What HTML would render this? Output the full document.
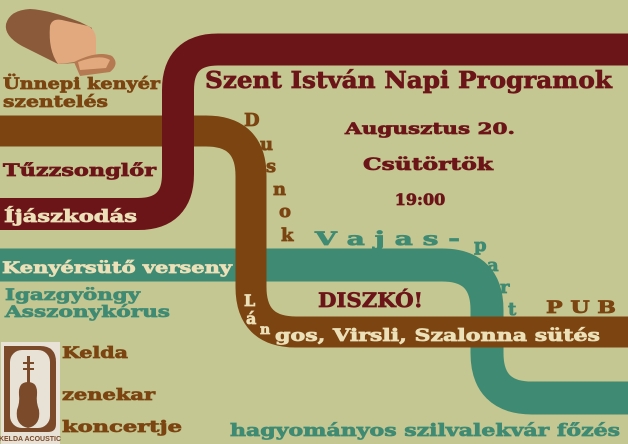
<!DOCTYPE html>
<html><head><meta charset="utf-8"><style>
html,body{margin:0;padding:0;background:#c6c895;}
svg{display:block}
text{font-family:"DejaVu Serif","Liberation Serif",serif;font-weight:bold;stroke-width:0.7;}
</style></head><body>
<svg width="628" height="444" viewBox="0 0 628 444" xmlns="http://www.w3.org/2000/svg">
<rect width="628" height="444" fill="#c4c792"/>
<!-- teal band -->
<path d="M-10,265 H442 Q487,265 487,310 V353 Q487,398 532,398 H640" fill="none" stroke="#3f8a72" stroke-width="33"/>
<!-- brown band -->
<path d="M-10,131 H206 Q251,131 251,176 V287 Q251,332 296,332 H640" fill="none" stroke="#7b4411" stroke-width="31"/>
<!-- red band -->
<path d="M640,49.5 H218 Q178,49.5 178,90 V174 Q178,214 138,214 H-10" fill="none" stroke="#6c1518" stroke-width="32"/>

<!-- bread -->
<g>
<path d="M6,24 Q10,10 30,9 Q50,10 80,22 L92,28 L92,62 L58,64 L22,46 Q4,36 6,24Z" fill="#8a5a3a"/>
<path d="M50,26 Q52,18 62,20 L88,26 Q96,30 96,40 L96,60 L58,64 Q48,50 50,26Z" fill="#e3a97e"/>
<path d="M74,62 Q98,50 112,56 Q120,64 110,72 L80,76 Z" fill="#b57a52"/>
<path d="M78,62 Q100,54 110,60 L106,68 L80,70Z" fill="#e3a97e"/>
</g>

<text x="3" y="89" font-size="16" fill="#7b4411" stroke="#7b4411" textLength="157" lengthAdjust="spacingAndGlyphs">Ünnepi kenyér</text>
<text x="3" y="107" font-size="16" fill="#7b4411" stroke="#7b4411" textLength="105" lengthAdjust="spacingAndGlyphs">szentelés</text>
<text x="205" y="88" font-size="23" fill="#6c1518" stroke="#6c1518" textLength="407" lengthAdjust="spacingAndGlyphs">Szent István Napi Programok</text>
<text x="3" y="176" font-size="17" fill="#6c1518" stroke="#6c1518" textLength="153" lengthAdjust="spacingAndGlyphs">Tűzzsonglőr</text>
<text x="4" y="222" font-size="17" fill="#ece0b8" stroke="#ece0b8" textLength="133" lengthAdjust="spacingAndGlyphs">Íjászkodás</text>
<text x="2" y="273" font-size="16" fill="#ece0b8" stroke="#ece0b8" textLength="230" lengthAdjust="spacingAndGlyphs">Kenyérsütő verseny</text>
<text x="5" y="300" font-size="16" fill="#3f8a72" stroke="#3f8a72" textLength="135" lengthAdjust="spacingAndGlyphs">Igazgyöngy</text>
<text x="5" y="317" font-size="16" fill="#3f8a72" stroke="#3f8a72" textLength="165" lengthAdjust="spacingAndGlyphs">Asszonykórus</text>

<text x="430" y="134" font-size="16" fill="#6c1518" stroke="#6c1518" text-anchor="middle" textLength="170" lengthAdjust="spacingAndGlyphs">Augusztus 20.</text>
<text x="428" y="170" font-size="17" fill="#6c1518" stroke="#6c1518" text-anchor="middle" textLength="130" lengthAdjust="spacingAndGlyphs">Csütörtök</text>
<text x="420" y="205" font-size="16" fill="#6c1518" stroke="#6c1518" text-anchor="middle">19:00</text>

<g font-size="18" fill="#7b4411" stroke="#7b4411">
<text x="244" y="126">D</text><text x="260" y="150">u</text><text x="266" y="172">s</text>
<text x="273" y="195">n</text><text x="279" y="217">o</text><text x="281" y="241">k</text>
</g>
<text x="315" y="245" font-size="19" fill="#3f8a72" stroke="#3f8a72" textLength="145" lengthAdjust="spacingAndGlyphs">V a j a s -</text>
<g font-size="18" fill="#3f8a72" stroke="#3f8a72">
<text x="474" y="251">p</text><text x="487" y="271">a</text><text x="500" y="293">r</text><text x="508" y="315">t</text>
</g>
<text x="546" y="313" font-size="17" fill="#7b4411" stroke="#7b4411" textLength="70" lengthAdjust="spacingAndGlyphs">P U B</text>
<text x="318" y="307" font-size="20" fill="#6c1518" stroke="#6c1518" textLength="105" lengthAdjust="spacingAndGlyphs">DISZKÓ!</text>

<g font-size="16" fill="#ece0b8" stroke="#ece0b8">
<text x="244" y="306">L</text><text x="246" y="324">á</text>
</g>
<text x="260" y="334" font-size="14" fill="#ece0b8" stroke="#ece0b8">n</text>
<text x="275" y="341" font-size="17" fill="#ece0b8" stroke="#ece0b8" textLength="325" lengthAdjust="spacingAndGlyphs">gos, Virsli, Szalonna sütés</text>

<!-- violin box -->
<rect x="1" y="342" width="59" height="102" fill="#e8e2d6"/>
<path d="M4,346 H40 Q56,346 56,362 V424 Q56,432 48,432 H4Z" fill="#7a4a2a"/>
<rect x="10" y="350" width="40" height="78" fill="#e8e2d6" rx="12"/>
<rect x="4" y="346" width="6" height="86" fill="#7a4a2a"/>
<g fill="#7a4a2a">
<rect x="27" y="356" width="3" height="28"/>
<rect x="23" y="362" width="11" height="2"/><rect x="23" y="368" width="11" height="2"/>
<path d="M28,382 Q18,382 19,395 Q20,402 17,410 Q15,425 28,428 Q41,425 39,410 Q36,402 37,395 Q38,382 28,382Z"/>
</g>
<text x="30" y="441" font-size="7" fill="#7a4a2a" text-anchor="middle" style="font-family:'Liberation Sans',sans-serif">KELDA ACOUSTIC</text>

<text x="62" y="358" font-size="16" fill="#7b4411" stroke="#7b4411" textLength="66" lengthAdjust="spacingAndGlyphs">Kelda</text>
<text x="62" y="400" font-size="16" fill="#7b4411" stroke="#7b4411" textLength="93" lengthAdjust="spacingAndGlyphs">zenekar</text>
<text x="62" y="432" font-size="16" fill="#7b4411" stroke="#7b4411" textLength="120" lengthAdjust="spacingAndGlyphs">koncertje</text>
<text x="230" y="436" font-size="17" fill="#3f8a72" stroke="#3f8a72" textLength="390" lengthAdjust="spacingAndGlyphs">hagyományos szilvalekvár főzés</text>
</svg>
</body></html>
